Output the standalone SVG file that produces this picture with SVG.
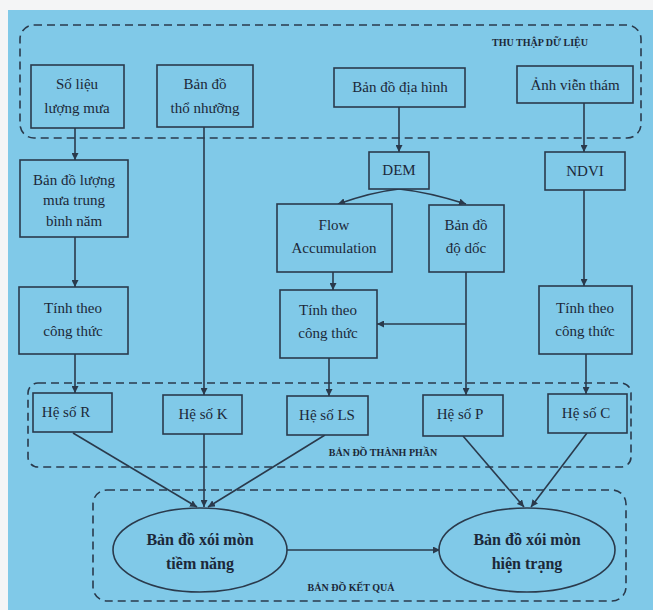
<svg xmlns="http://www.w3.org/2000/svg" width="653" height="610" viewBox="0 0 653 610" font-family="Liberation Serif, Times New Roman, serif">
<defs>
<marker id="ah" viewBox="0 0 10 10" refX="10" refY="5" markerWidth="7" markerHeight="7" markerUnits="userSpaceOnUse" orient="auto">
<path d="M0,0 L10,5 L0,10 Z" fill="#2a3a4c"/>
</marker>
<style>
.bx{fill:#80c9e8;stroke:#2a3a4c;stroke-width:1.6}
.grp{fill:none;stroke:#2a3a4c;stroke-width:1.6;stroke-dasharray:8,5}
text{font-family:"Liberation Serif","Times New Roman",Times,serif}
.t{font-size:15px;fill:#1c2838;text-anchor:middle}
.tb{font-size:16px;font-weight:bold;fill:#1c2838;text-anchor:middle}
.lbl{font-size:10px;font-weight:bold;fill:#1c2838;text-anchor:middle}
.c{fill:none;stroke:#2a3a4c;stroke-width:1.6;marker-end:url(#ah)}
</style>
</defs>
<rect x="0" y="0" width="653" height="610" fill="#f4f5f6"/>
<rect x="8" y="10" width="645" height="600" fill="#80c9e8"/>

<g id="groups">
<rect class="grp" x="20" y="25" width="621" height="113" rx="14"/>
<text class="lbl" x="540" y="46">THU THẬP DỮ LIỆU</text>
<rect class="grp" x="28" y="383" width="603" height="84" rx="10"/>
<text class="lbl" x="383" y="456">BẢN ĐỒ THÀNH PHẦN</text>
<rect class="grp" x="93" y="490" width="533" height="111" rx="14"/>
<text class="lbl" x="351" y="591">BẢN ĐỒ KẾT QUẢ</text>
</g>

<g id="connectors">
<line class="c" x1="75" y1="128" x2="75" y2="160"/>
<line class="c" x1="75" y1="237" x2="75" y2="287"/>
<line class="c" x1="75" y1="354" x2="75" y2="393"/>
<line class="c" x1="204" y1="127" x2="204" y2="395"/>
<line class="c" x1="399" y1="107" x2="399" y2="152"/>
<path class="c" d="M399,189 Q372,192 338,204"/>
<path class="c" d="M399,189 Q428,192 466,204"/>
<line class="c" x1="333" y1="272" x2="333" y2="290"/>
<line class="c" x1="329" y1="358" x2="329" y2="396"/>
<line class="c" x1="466" y1="272" x2="466" y2="395"/>
<line class="c" x1="466" y1="324" x2="377" y2="324"/>
<line class="c" x1="584" y1="103" x2="584" y2="152"/>
<line class="c" x1="584" y1="190" x2="584" y2="286"/>
<line class="c" x1="586" y1="354" x2="586" y2="394"/>
<line class="c" x1="73" y1="433" x2="197" y2="507"/>
<line class="c" x1="204" y1="434" x2="204" y2="507"/>
<line class="c" x1="325" y1="435" x2="208" y2="507"/>
<line class="c" x1="463" y1="436" x2="524" y2="507"/>
<line class="c" x1="587" y1="433" x2="531" y2="507"/>
<line class="c" x1="287" y1="550" x2="440" y2="550"/>
</g>

<g id="so-lieu-luong-mua">
<rect class="bx" x="31" y="65" width="93" height="63"/>
<text class="t" x="77" y="89">Số liệu</text>
<text class="t" x="77" y="113">lượng mưa</text>
</g>
<g id="ban-do-tho-nhuong">
<rect class="bx" x="157" y="65" width="96" height="62"/>
<text class="t" x="205" y="89">Bản đồ</text>
<text class="t" x="205" y="113">thổ nhưỡng</text>
</g>
<g id="ban-do-dia-hinh">
<rect class="bx" x="334" y="68" width="131" height="39"/>
<text class="t" x="400" y="92">Bản đồ địa hình</text>
</g>
<g id="anh-vien-tham">
<rect class="bx" x="517" y="66" width="116" height="37"/>
<text class="t" x="575" y="90">Ảnh viễn thám</text>
</g>
<g id="ban-do-luong-mua-tb">
<rect class="bx" x="20" y="160" width="108" height="77"/>
<text class="t" x="74" y="185">Bản đồ lượng</text>
<text class="t" x="74" y="205">mưa trung</text>
<text class="t" x="74" y="226">bình năm</text>
</g>
<g id="tinh-theo-1">
<rect class="bx" x="19" y="287" width="109" height="67"/>
<text class="t" x="73" y="313">Tính theo</text>
<text class="t" x="73" y="336">công thức</text>
</g>
<g id="dem">
<rect class="bx" x="369" y="152" width="60" height="37"/>
<text class="t" x="399" y="175">DEM</text>
</g>
<g id="ndvi">
<rect class="bx" x="545" y="152" width="80" height="38"/>
<text class="t" x="585" y="176">NDVI</text>
</g>
<g id="flow-accumulation">
<rect class="bx" x="277" y="204" width="115" height="68"/>
<text class="t" x="334" y="230">Flow</text>
<text class="t" x="334" y="253">Accumulation</text>
</g>
<g id="ban-do-do-doc">
<rect class="bx" x="429" y="205" width="75" height="67"/>
<text class="t" x="466" y="230">Bản đồ</text>
<text class="t" x="466" y="253">độ dốc</text>
</g>
<g id="tinh-theo-2">
<rect class="bx" x="280" y="290" width="97" height="68"/>
<text class="t" x="328" y="315">Tính theo</text>
<text class="t" x="328" y="338">công thức</text>
</g>
<g id="tinh-theo-3">
<rect class="bx" x="539" y="286" width="93" height="68"/>
<text class="t" x="585" y="313">Tính theo</text>
<text class="t" x="585" y="336">công thức</text>
</g>
<g id="he-so-r">
<rect class="bx" x="33" y="393" width="79" height="39"/>
<text class="t" x="66" y="417">Hệ số R</text>
</g>
<g id="he-so-k">
<rect class="bx" x="163" y="395" width="79" height="39"/>
<text class="t" x="203" y="419">Hệ số K</text>
</g>
<g id="he-so-ls">
<rect class="bx" x="287" y="396" width="81" height="39"/>
<text class="t" x="327" y="420">Hệ số LS</text>
</g>
<g id="he-so-p">
<rect class="bx" x="423" y="395" width="80" height="41"/>
<text class="t" x="460" y="419">Hệ số P</text>
</g>
<g id="he-so-c">
<rect class="bx" x="548" y="394" width="79" height="39"/>
<text class="t" x="586" y="418">Hệ số C</text>
</g>
<g id="xoi-mon-tiem-nang">
<ellipse class="bx" cx="200" cy="550" rx="87" ry="42"/>
<text class="tb" x="200" y="545">Bản đồ xói mòn</text>
<text class="tb" x="200" y="569">tiềm năng</text>
</g>
<g id="xoi-mon-hien-trang">
<ellipse class="bx" cx="527" cy="550" rx="88" ry="42"/>
<text class="tb" x="527" y="545">Bản đồ xói mòn</text>
<text class="tb" x="527" y="569">hiện trạng</text>
</g>
</svg>
